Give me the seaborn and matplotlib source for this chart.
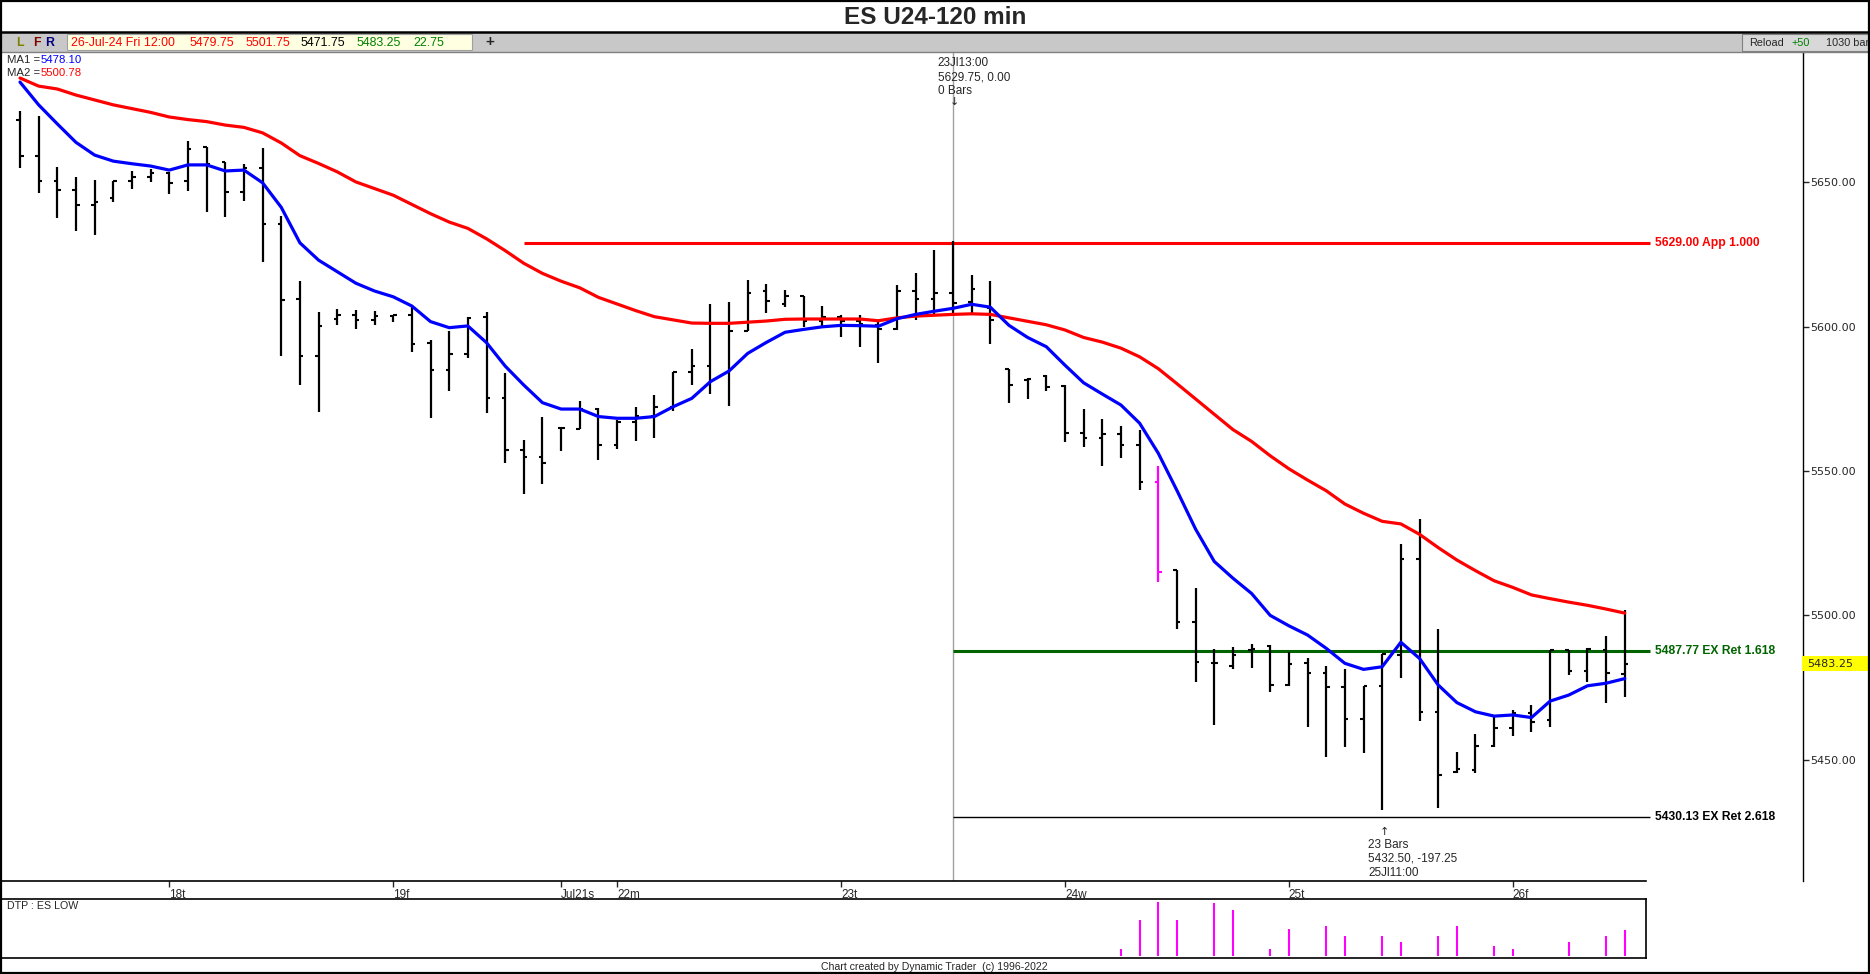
import matplotlib
matplotlib.use('Agg')
import matplotlib.pyplot as plt
import seaborn as sns
import pandas as pd
import numpy as np
from matplotlib.patches import Rectangle
from matplotlib.lines import Line2D

sns.set_style('white')
plt.rcParams['font.family'] = ['Liberation Sans', 'DejaVu Sans']

# 120 min OHLC bars, ES U24, 17-Jul-24 .. 26-Jul-24
opens = [5671.7, 5659.3, 5650.4, 5647.5, 5642.3, 5644.5, 5650.4, 5652.0, 5653.2, 5650.4,
         5662.2, 5657.0, 5646.8, 5655.1, 5635.7, 5609.6, 5590.0, 5602.6, 5604.2, 5602.4,
         5603.6, 5604.0, 5594.3, 5585.0, 5590.6, 5603.3, 5575.4, 5557.3, 5554.9, 5564.9,
         5564.7, 5571.5, 5559.1, 5567.1, 5569.2, 5572.3, 5584.4, 5586.4, 5601.2, 5598.5,
         5612.5, 5608.0, 5610.8, 5602.1, 5603.5, 5602.1, 5600.7, 5599.3, 5612.3, 5609.5,
         5611.6, 5608.7, 5606.6, 5585.3, 5581.6, 5583.0, 5579.4, 5563.3, 5561.3, 5562.9,
         5559.1, 5546.3, 5515.9, 5497.6, 5483.6, 5482.4, 5487.9, 5489.4, 5476.0, 5483.4,
         5479.9, 5475.3, 5464.0, 5475.6, 5486.3, 5519.7, 5466.4, 5445.8, 5446.4, 5454.7,
         5460.9, 5466.3, 5463.7, 5488.0, 5480.8, 5488.0, 5479.75]
highs = [5674.8, 5673.0, 5655.4, 5651.9, 5650.9, 5650.5, 5654.0, 5654.7, 5653.7, 5664.4,
         5662.2, 5657.0, 5656.4, 5662.0, 5638.4, 5615.9, 5605.0, 5606.1, 5605.8, 5605.5,
         5604.1, 5607.4, 5595.4, 5598.5, 5603.5, 5605.0, 5583.9, 5560.8, 5568.6, 5565.4,
         5574.3, 5571.8, 5567.7, 5572.1, 5576.4, 5584.4, 5592.3, 5607.8, 5608.5, 5616.2,
         5614.7, 5612.8, 5610.8, 5607.2, 5604.1, 5604.1, 5601.9, 5614.4, 5618.7, 5626.5,
         5629.75, 5618.0, 5615.7, 5585.3, 5582.4, 5583.2, 5579.7, 5571.4, 5567.9, 5565.8,
         5564.2, 5551.8, 5515.9, 5509.4, 5488.5, 5489.2, 5490.0, 5489.7, 5487.4, 5485.1,
         5482.5, 5481.3, 5475.6, 5486.6, 5524.6, 5533.3, 5495.2, 5452.6, 5458.9, 5465.1,
         5467.2, 5468.9, 5488.0, 5488.0, 5488.6, 5492.9, 5501.75]
lows = [5655.1, 5646.3, 5637.8, 5633.3, 5631.9, 5643.1, 5647.9, 5650.1, 5646.1, 5647.2,
        5639.9, 5638.1, 5643.7, 5622.6, 5590.0, 5580.0, 5570.4, 5600.5, 5599.3, 5600.5,
        5601.6, 5591.4, 5568.5, 5577.9, 5589.3, 5570.0, 5552.7, 5542.0, 5545.4, 5557.1,
        5564.5, 5553.8, 5557.6, 5560.3, 5561.6, 5570.7, 5579.9, 5576.6, 5572.7, 5598.4,
        5604.9, 5606.8, 5600.0, 5600.4, 5596.4, 5593.1, 5587.6, 5598.8, 5602.5, 5603.6,
        5604.3, 5604.3, 5593.9, 5573.5, 5575.0, 5577.7, 5560.2, 5558.2, 5551.6, 5554.4,
        5543.6, 5511.4, 5495.3, 5476.8, 5461.9, 5481.6, 5481.8, 5473.3, 5475.4, 5461.4,
        5450.8, 5454.5, 5452.2, 5432.5, 5478.4, 5463.4, 5433.2, 5445.3, 5445.5, 5454.5,
        5458.3, 5459.7, 5461.4, 5479.4, 5477.0, 5469.8, 5471.75]
closes = [5659.3, 5650.4, 5647.5, 5642.3, 5643.3, 5650.5, 5652.0, 5653.4, 5649.8, 5661.7,
          5656.4, 5646.8, 5655.1, 5635.7, 5609.4, 5590.0, 5600.4, 5604.2, 5602.4, 5603.6,
          5604.0, 5594.0, 5585.0, 5590.6, 5603.2, 5575.4, 5557.2, 5554.9, 5552.9, 5564.9,
          5571.5, 5559.1, 5567.0, 5569.2, 5572.3, 5584.4, 5586.5, 5601.2, 5598.5, 5611.8,
          5608.8, 5610.8, 5602.1, 5603.5, 5602.1, 5601.0, 5599.3, 5612.3, 5609.5, 5611.6,
          5608.4, 5613.0, 5602.5, 5579.9, 5582.0, 5579.1, 5563.3, 5561.3, 5562.9, 5559.1,
          5546.3, 5515.0, 5497.6, 5483.9, 5483.6, 5486.2, 5488.3, 5476.0, 5483.3, 5479.9,
          5475.3, 5464.0, 5475.6, 5486.6, 5519.7, 5466.4, 5444.7, 5446.7, 5454.9, 5460.9,
          5466.3, 5463.2, 5488.0, 5480.8, 5488.4, 5479.9, 5483.25]

# moving averages as drawn on the chart
ma1 = [5684.8, 5676.9, 5670.3, 5663.9, 5659.5, 5657.4, 5656.5, 5655.7, 5654.3, 5656.1,
       5656.1, 5654.0, 5654.3, 5649.9, 5641.4, 5629.1, 5623.1, 5619.1, 5615.1, 5612.4,
       5610.4, 5607.2, 5601.8, 5599.7, 5600.3, 5594.5, 5586.4, 5579.8, 5573.7, 5571.5,
       5571.5, 5568.9, 5568.3, 5568.3, 5568.9, 5572.3, 5575.2, 5581.0, 5584.7, 5590.8,
       5594.6, 5598.1, 5599.1, 5600.0, 5600.5, 5600.4, 5600.2, 5602.8, 5604.3, 5605.4,
       5606.4, 5607.8, 5606.8, 5600.5, 5596.3, 5593.1, 5586.7, 5580.6, 5576.7, 5572.9,
       5566.6, 5556.2, 5543.3, 5529.9, 5518.7, 5512.9, 5507.6, 5500.0, 5496.4, 5493.2,
       5488.6, 5483.4, 5481.3, 5482.2, 5490.7, 5485.1, 5475.9, 5469.8, 5466.6, 5465.1,
       5465.5, 5464.6, 5470.3, 5472.4, 5475.6, 5476.5, 5478.1]
ma2 = [5686.2, 5683.4, 5682.4, 5680.3, 5678.6, 5676.9, 5675.6, 5674.3, 5672.7, 5671.8,
       5671.1, 5669.9, 5669.1, 5667.2, 5663.7, 5659.3, 5656.6, 5653.7, 5650.2, 5647.9,
       5645.6, 5642.4, 5639.2, 5636.3, 5634.1, 5630.5, 5626.4, 5622.0, 5618.5, 5615.8,
       5613.5, 5610.2, 5607.9, 5605.6, 5603.5, 5602.4, 5601.3, 5601.2, 5601.2, 5601.6,
       5602.0, 5602.6, 5602.7, 5602.7, 5602.7, 5602.7, 5602.1, 5603.1, 5603.7, 5604.0,
       5604.3, 5604.5, 5604.3, 5603.1, 5601.9, 5600.7, 5598.9, 5596.3, 5594.7, 5592.6,
       5589.6, 5585.5, 5580.3, 5575.0, 5569.7, 5564.4, 5560.3, 5555.3, 5550.8, 5546.9,
       5543.2, 5538.6, 5535.4, 5532.6, 5531.7, 5528.1, 5523.5, 5519.2, 5515.5, 5512.0,
       5509.7, 5507.1, 5505.8, 5504.6, 5503.5, 5502.2, 5500.8]

date_pos = [8, 20, 29, 32, 44, 56, 68, 80]
date_labels = ['18t', '19f', 'Jul21s', '22m', '23t', '24w', '25t', '26f']

levels = [5629.00, 5487.77, 5430.13]
level_labels = ['5629.00 App 1.000', '5487.77 EX Ret 1.618', '5430.13 EX Ret 2.618']
level_start = [27, 50, 50]
level_colors = ['#ff0000', '#006400', '#000000']
level_widths = [2.2, 2.2, 1.0]

highlight_bar = 61  # magenta bar
dtp_pos = [59, 60, 61, 62, 64, 65, 67, 68, 70, 71, 73, 74, 76, 77, 79, 80, 83, 85, 86]
dtp_val = [1.0, 5.4, 8.1, 5.4, 7.9, 6.9, 1.0, 4.0, 4.5, 3.0, 3.0, 2.0, 3.0, 4.5, 1.5, 1.0, 2.0, 3.0, 3.9]

W, H = 1870, 974


def px(x, y):
    return x / W, 1 - y / H


bars = pd.DataFrame({'i': np.arange(len(opens)), 'open': opens, 'high': highs,
                     'low': lows, 'close': closes, 'ma1': ma1, 'ma2': ma2})

fig = plt.figure(figsize=(W / 100, H / 100), dpi=100)

# ---- main price panel
x0, x1 = -20 / 18.66, (1803 - 20) / 18.66
ax = fig.add_axes([0, px(0, 881)[1], 1803 / W, (881 - 52) / H])
ax.set_xlim(x0, x1)
ax.set_ylim(5650 - (881 - 182.5) / 2.886, 5650 + (182.5 - 52) / 2.886)

ax.axvline(50, color='#a0a0a0', lw=1, zorder=1)
for lv, s, c, w in zip(levels, level_start, level_colors, level_widths):
    ax.hlines(lv, s, 87.35, color=c, lw=w, zorder=2)
for lv, lab, c in zip(levels, level_labels, level_colors):
    ax.text(87.6, lv, lab, color=c, fontsize=8.7, fontweight='bold', va='center', ha='left')

cols = ['#ff00ff' if i == highlight_bar else 'black' for i in bars['i']]
ax.vlines(bars['i'], bars['low'], bars['high'], colors=cols, lw=1.6, zorder=3)
ax.hlines(bars['open'], bars['i'] - 0.19, bars['i'], colors=cols, lw=1.5, zorder=3)
ax.hlines(bars['close'], bars['i'], bars['i'] + 0.19, colors=cols, lw=1.5, zorder=3)

sns.lineplot(data=bars, x='i', y='ma2', ax=ax, color='#ff0000', lw=2.3, estimator=None, zorder=4)
sns.lineplot(data=bars, x='i', y='ma1', ax=ax, color='#0000ff', lw=2.3, estimator=None, zorder=5)

ax.set_xlabel('')
ax.set_ylabel('')
for sp in ['left', 'top']:
    ax.spines[sp].set_visible(False)
ax.spines['right'].set_color('black')
ax.spines['right'].set_linewidth(1)
ax.spines['bottom'].set_color('black')
ax.spines['bottom'].set_linewidth(1.2)
ax.spines['bottom'].set_bounds(x0, (1646 - 20) / 18.66)

ax.yaxis.tick_right()
ax.set_yticks([5450, 5500, 5550, 5600, 5650])
ax.set_yticklabels([f'{v:.2f}' for v in [5450, 5500, 5550, 5600, 5650]],
                   fontfamily='DejaVu Sans', fontsize=8)
ax.tick_params(axis='y', direction='out', length=4, width=1, pad=1, right=True)
ax.set_xticks(date_pos)
ax.set_xticklabels(date_labels, fontsize=8.5)
ax.tick_params(axis='x', direction='out', length=4, width=1, pad=1.5, bottom=True)
for t in ax.get_xticklabels():
    t.set_ha('left')

# ---- DTP panel
ax2 = fig.add_axes([0, px(0, 958)[1], 1646 / W, (958 - 899) / H])
ax2.set_xlim(x0, (1646 - 20) / 18.66)
ax2.set_ylim(-0.35, 8.5)
ax2.vlines(dtp_pos, 0, dtp_val, color='#ff00ff', lw=1.5)
ax2.set_xticks([])
ax2.set_yticks([])
ax2.spines['left'].set_visible(False)
for sp in ['top', 'bottom', 'right']:
    ax2.spines[sp].set_color('black')
    ax2.spines[sp].set_linewidth(1.2)
ax2.text(0.004, 0.88, 'DTP : ES LOW', transform=ax2.transAxes, fontsize=7.7, va='center')

# ---- frame, title, toolbar
fig.patches.append(Rectangle(px(0, 52), 1, 19 / H, transform=fig.transFigure,
                             facecolor='#c8c8c8', edgecolor='none', zorder=0))
fig.lines.append(Line2D([0, 1], [px(0, 32)[1]] * 2, color='black', lw=1.8, transform=fig.transFigure))
fig.lines.append(Line2D([0, 1], [px(0, 52)[1]] * 2, color='#808080', lw=1, transform=fig.transFigure))
fig.patches.append(Rectangle((0.0005, 0.001), 0.999, 0.998, transform=fig.transFigure,
                             fill=False, edgecolor='black', lw=1.6, zorder=10))

fig.text(*px(935, 17.5), 'ES U24-120 min', ha='center', va='center', fontsize=17.5, fontweight='bold')

for x, s, c in [(20, 'L', '#808000'), (36.5, 'F', '#800000'), (50, 'R', '#000080')]:
    fig.text(*px(x, 42.5), s, color=c, fontsize=8.8, fontweight='bold', ha='center', va='center')
fig.patches.append(Rectangle(px(67, 50), (472 - 67) / W, 16 / H, transform=fig.transFigure,
                             facecolor='#ffffe1', edgecolor='#a0a0a0', lw=0.8))
for x, s, c in [(71, '26-Jul-24 Fri 12:00', '#ff0000'), (190, '5479.75', '#ff0000'),
                (245.5, '5501.75', '#ff0000'), (301, '5471.75', 'black'),
                (357, '5483.25', '#008000'), (413, '22.75', '#008000')]:
    fig.text(*px(x, 42.5), s, color=c, fontsize=8.9, va='center')
fig.text(*px(490, 42), '+', fontsize=11, fontweight='bold', ha='center', va='center')
fig.patches.append(Rectangle(px(1742, 51), 130 / W, 17 / H, transform=fig.transFigure,
                             facecolor='#d8d8d8', edgecolor='#808080', lw=0.8))
fig.text(*px(1749, 42.5), 'Reload', fontsize=7.8, va='center')
fig.text(*px(1791, 42.5), '+50', fontsize=7.8, va='center', color='#008000')
fig.text(*px(1826, 42.5), '1030 bar', fontsize=7.8, va='center')

fig.text(*px(7, 60), 'MA1 =', fontsize=8.2, va='center')
fig.text(*px(41, 60), '5478.10', fontsize=8.2, va='center', color='#0000ff')
fig.text(*px(7, 73), 'MA2 =', fontsize=8.2, va='center')
fig.text(*px(41, 73), '5500.78', fontsize=8.2, va='center', color='#ff0000')

# swing annotations
for y, s in [(63, '23Jl13:00'), (77.5, '5629.75, 0.00'), (91.5, '0 Bars')]:
    fig.text(*px(937.5, y), s, fontsize=8.5, va='center')
fig.text(*px(954, 102), '\u2193', fontsize=8, ha='center', va='center', family='DejaVu Sans')
fig.text(*px(1384, 832), '\u2191', fontsize=8, ha='center', va='center', family='DejaVu Sans')
for y, s in [(844.5, '23 Bars'), (858.5, '5432.50, -197.25'), (873, '25Jl11:00')]:
    fig.text(*px(1368, y), s, fontsize=8.5, va='center')

# last price box
fig.patches.append(Rectangle(px(1802, 671), 66 / W, 15 / H, transform=fig.transFigure,
                             facecolor='#ffff00', edgecolor='none', zorder=5))
fig.text(*px(1807, 663.7), '5483.25', fontsize=8, va='center', family='DejaVu Sans', zorder=6)

fig.text(*px(934, 966.5), 'Chart created by Dynamic Trader  (c) 1996-2022', fontsize=7.6,
         ha='center', va='center')

fig.savefig('out.png', dpi=100)
